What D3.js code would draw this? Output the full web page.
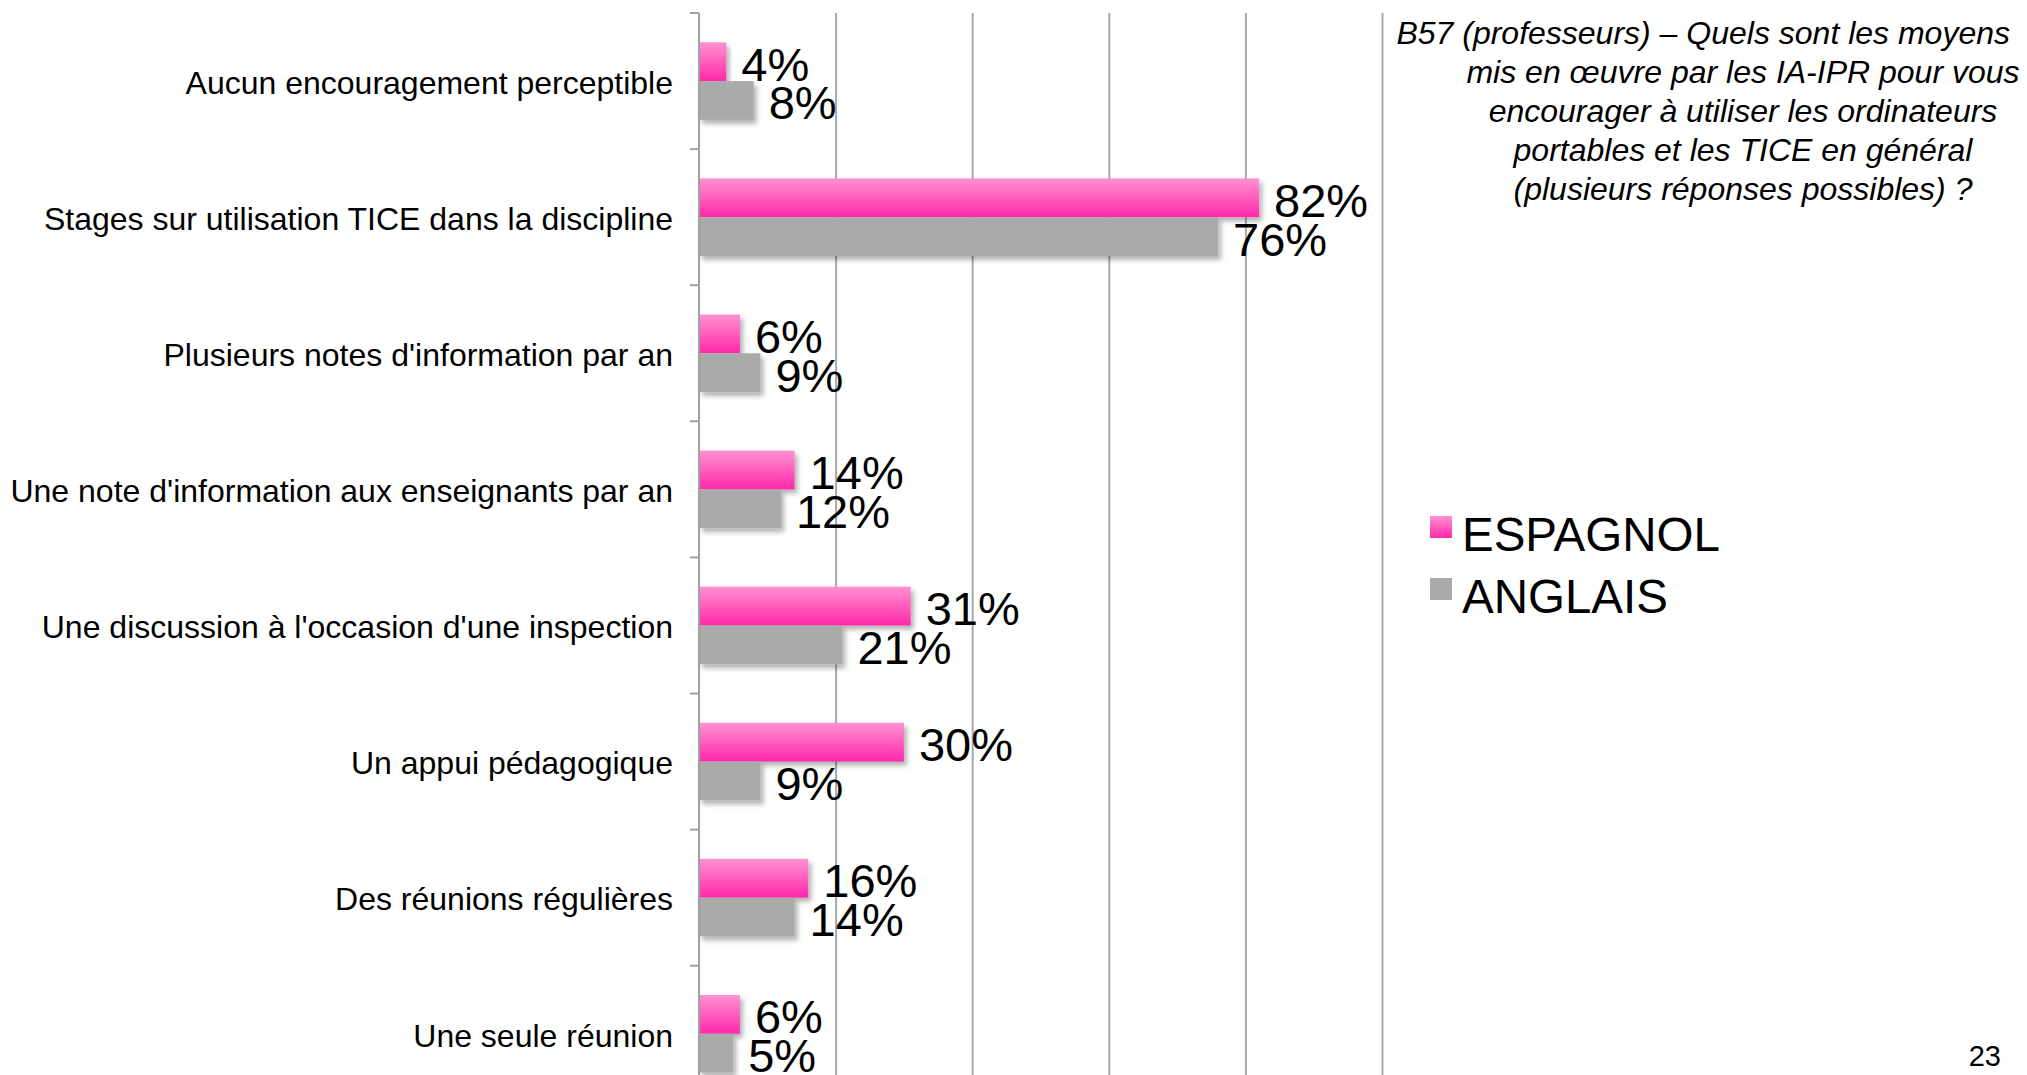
<!DOCTYPE html>
<html lang="fr">

<head>
    <meta charset="UTF-8">
    <title>B57 professeurs</title>
    <script src="https://d3js.org/d3.v7.min.js"></script>
    <style>
        body {
            margin: 0;
            background: #fff;
        }

        svg {
            display: block;
        }

        text {
            font-family: "Liberation Sans", Arial, Helvetica, sans-serif;
            fill: #000;
        }

        .catLabel text {
            font-size: 32px;
        }

        .valLabel {
            font-size: 47px;
        }

        .legend text {
            font-size: 47.5px;
        }

        .question {
            font-size: 32px;
            font-style: italic;
        }
    </style>
</head>

<body>
    <script>
        // categories top to bottom, values in %
        const categories = [
            "Aucun encouragement perceptible",
            "Stages sur utilisation TICE dans la discipline",
            "Plusieurs notes d'information par an",
            "Une note d'information aux enseignants par an",
            "Une discussion à l'occasion d'une inspection",
            "Un appui pédagogique",
            "Des réunions régulières",
            "Une seule réunion"
        ];
        const seriesNames = ["ESPAGNOL", "ANGLAIS"];
        const espagnol = [4, 82, 6, 14, 31, 30, 16, 6];
        const anglais = [8, 76, 9, 12, 21, 9, 14, 5];
        const gridTicks = [20, 40, 60, 80, 100];
        const questionLines = [
            "B57 (professeurs) – Quels sont les moyens",
            "mis en œuvre par les IA-IPR pour vous",
            "encourager à utiliser les ordinateurs",
            "portables et les TICE en général",
            "(plusieurs réponses possibles) ?"
        ];
        const pageNumber = "23";

        const width = 2027
        const height = 1075

        const plotLeft = 699, plotRight = 1382
        const plotTop = 13
        const step = 136.1
        const plotBottom = plotTop + step * categories.length  // goes past the page bottom, like the slide

        let svg = d3.select("body").append("svg")
            .attr("width", width)
            .attr("height", height)
            .attr("viewBox", `0 0 ${width} ${height}`);

        let defs = svg.append("defs");
        let grad = defs.append("linearGradient")
            .attr("id", "pinkGrad")
            .attr("x1", 0).attr("y1", 0).attr("x2", 0).attr("y2", 1);
        grad.append("stop").attr("offset", "0%").attr("stop-color", "#ff92d0");
        grad.append("stop").attr("offset", "100%").attr("stop-color", "#ff28aa");

        defs.append("filter")
            .attr("id", "shadow")
            .attr("x", "-10%").attr("y", "-20%")
            .attr("width", "130%").attr("height", "160%")
            .append("feDropShadow")
            .attr("dx", 3).attr("dy", 4)
            .attr("stdDeviation", 2.5)
            .attr("flood-color", "#000")
            .attr("flood-opacity", 0.3);

        const colors = { "ESPAGNOL": "url(#pinkGrad)", "ANGLAIS": "#aaaaaa" };
        const values = { "ESPAGNOL": espagnol, "ANGLAIS": anglais };

        let x = d3.scaleLinear()
            .domain([0, 100])
            .range([plotLeft, plotRight]);

        let y = d3.scaleBand()
            .domain(categories)
            .range([plotTop, plotBottom])
            .paddingInner(0.43)
            .paddingOuter(0.215);

        let ySub = d3.scaleBand()
            .domain(seriesNames)
            .range([0, y.bandwidth()]);

        // vertical gridlines
        let gGrid = svg.append("g")
            .attr("transform", `translate(0,${plotTop})`)
            .call(d3.axisTop(x)
                .tickValues(gridTicks)
                .tickSize(-(plotBottom - plotTop))
                .tickFormat(""));
        gGrid.select(".domain").remove();
        gGrid.selectAll(".tick line")
            .attr("stroke", "#a8a8a8")
            .attr("stroke-width", 2);

        // bars, one series after the other so grey sits over the pink shadow
        seriesNames.forEach((s, si) => {
            let rows = categories.map((c, i) => ({ cat: c, v: values[s][i] }));

            svg.append("g")
                .selectAll("rect")
                .data(rows)
                .enter()
                .append("rect")
                .attr("x", x(0))
                .attr("y", d => y(d.cat) + ySub(s))
                .attr("width", d => x(d.v) - x(0))
                .attr("height", ySub.bandwidth())
                .attr("fill", colors[s])
                .attr("filter", "url(#shadow)");

            svg.append("g")
                .selectAll("text")
                .data(rows)
                .enter()
                .append("text")
                .attr("class", "valLabel")
                .attr("x", d => x(d.v) + 15)
                .attr("y", d => y(d.cat) + ySub(s) + ySub.bandwidth() / 2 + 19)
                .text(d => d.v + "%");
        });

        // left axis: line + ticks between categories
        let gAxis = svg.append("g");
        gAxis.append("line")
            .attr("x1", x(0)).attr("x2", x(0))
            .attr("y1", plotTop).attr("y2", plotBottom)
            .attr("stroke", "#a0a0a0")
            .attr("stroke-width", 2);
        let boundaries = d3.range(categories.length + 1).map(i => plotTop + i * y.step());
        gAxis.selectAll(".tk")
            .data(boundaries)
            .enter()
            .append("line")
            .attr("x1", x(0) - 9).attr("x2", x(0))
            .attr("y1", d => d).attr("y2", d => d)
            .attr("stroke", "#a0a0a0")
            .attr("stroke-width", 2);

        // category labels
        let gCat = svg.append("g")
            .attr("class", "catLabel")
            .attr("transform", `translate(${x(0)},0)`)
            .call(d3.axisLeft(y).tickSize(0).tickPadding(26));
        gCat.select(".domain").remove();
        gCat.selectAll("text")
            .attr("dy", "0.4em")
            .attr("font-family", null)
            .attr("font-size", null)
            .attr("fill", "#000");

        // legend
        let legend = svg.append("g").attr("class", "legend");
        let legItems = legend.selectAll("g")
            .data(seriesNames)
            .enter()
            .append("g")
            .attr("transform", (d, i) => `translate(1430,${516 + i * 62})`);
        legItems.append("rect")
            .attr("width", 22)
            .attr("height", 22)
            .attr("fill", d => colors[d]);
        legItems.append("text")
            .attr("x", 32)
            .attr("y", 35)
            .text(d => d);

        // question text in the top right
        let q = svg.append("text")
            .attr("class", "question");
        q.selectAll("tspan")
            .data(questionLines)
            .enter()
            .append("tspan")
            .attr("x", (d, i) => i === 0 ? 2010 : 1743)
            .attr("y", (d, i) => 44 + i * 39)
            .attr("text-anchor", (d, i) => i === 0 ? "end" : "middle")
            .text(d => d);

        svg.append("text")
            .attr("x", 2001)
            .attr("y", 1066)
            .attr("text-anchor", "end")
            .attr("font-size", 29)
            .text(pageNumber);
    </script>
</body>

</html>
